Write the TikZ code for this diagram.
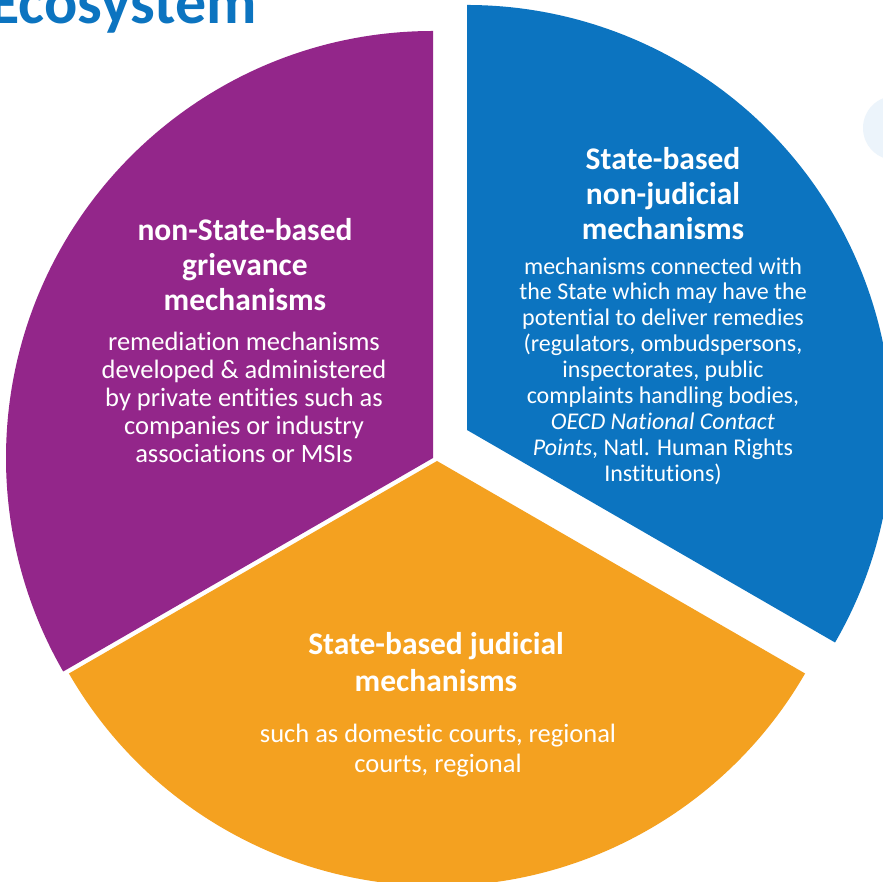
\documentclass[tikz,border=0pt]{standalone}
\usepackage{fontspec}
\setmainfont[Ligatures = NoCommon]{Carlito}
\usepackage{tikz}
\definecolor{grape}{RGB}{147,38,138}
\definecolor{ocean}{RGB}{12,116,192}
\definecolor{amber}{RGB}{244,161,32}
\definecolor{haze}{RGB}{236,244,251}
\tikzset{head/.style = {text = white, align = center, inner sep = 0, font = \bfseries\fontsize{31.5}{35}\selectfont}}
\tikzset{blurb/.style = {text = white, align = center, inner sep = 0, font = \fontsize{26.5}{28}\selectfont}}

\begin{document}
\begin{tikzpicture}[x = 1pt, y = 1pt]
    \clip (0, 0) rectangle (883, 882);
    \fill [white] (0, 0) rectangle (883, 882);

    \node [anchor = base west, text = ocean, inner sep = 0, font = \bfseries\fontsize{62}{64}\selectfont] (title) at (-11, 858) {Ecosystem};
    \fill [haze] (895, 754) circle (32);

    % three slices, the blue one pulled out a little
    \fill [grape] (433, 424) -- ++(90:427) arc [start angle = 90, end angle = 210, radius = 427] -- cycle;
    \fill [amber] (437, 421) -- ++(210:425) arc [start angle = 210, end angle = 330, radius = 425] -- cycle;
    \fill [ocean] (467, 452) -- ++(-30:425) arc [start angle = -30, end angle = 90, radius = 425] -- cycle;

    \node [head] (grievance) at (245, 617) {non-State-based\\grievance\\mechanisms};
    \node [blurb] (grievancetext) at (244, 485) {remediation mechanisms\\developed \& administered\\by private entities such as\\companies or industry\\associations or MSIs};

    \node [head] (nonjudicial) at (663, 688) {State-based\\non-judicial\\mechanisms};
    \node [blurb, font = \fontsize{24}{25.9}\selectfont] (nonjudicialtext) at (663, 511) {mechanisms connected with\\the State which may have the\\potential to deliver remedies\\(regulators, ombudspersons,\\inspectorates, public\\complaints handling bodies,\\\textit{OECD National Contact}\\\textit{Points}, Natl. Human Rights\\Institutions)};

    \node [head, font = \bfseries\fontsize{31.5}{37}\selectfont] (judicial) at (436, 219.5) {State-based judicial\\mechanisms};
    \node [blurb, font = \fontsize{26.5}{30}\selectfont] (judicialtext) at (438, 131.5) {such as domestic courts, regional\\courts, regional};
\end{tikzpicture}
\end{document}
